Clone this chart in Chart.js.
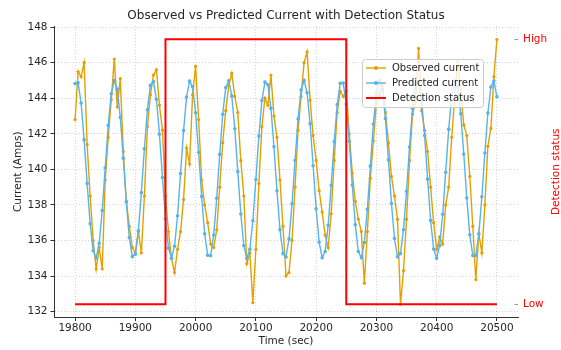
<!DOCTYPE html>
<html>
<head>
<meta charset="utf-8">
<script src="https://cdn.jsdelivr.net/npm/chart.js@4.4.1/dist/chart.umd.min.js"></script>
<style>
  html, body { margin: 0; padding: 0; background: #fff; }
  canvas { display: block; }
</style>
</head>
<body>
<canvas id="grafico" width="561" height="350"></canvas>
<script>
// time stamps (sec), one every 5 s
const times = [
  19800, 19805, 19810, 19815, 19820, 19825, 19830, 19835, 19840, 19845,
  19850, 19855, 19860, 19865, 19870, 19875, 19880, 19885, 19890, 19895,
  19900, 19905, 19910, 19915, 19920, 19925, 19930, 19935, 19940, 19945,
  19950, 19955, 19960, 19965, 19970, 19975, 19980, 19985, 19990, 19995,
  20000, 20005, 20010, 20015, 20020, 20025, 20030, 20035, 20040, 20045,
  20050, 20055, 20060, 20065, 20070, 20075, 20080, 20085, 20090, 20095,
  20100, 20105, 20110, 20115, 20120, 20125, 20130, 20135, 20140, 20145,
  20150, 20155, 20160, 20165, 20170, 20175, 20180, 20185, 20190, 20195,
  20200, 20205, 20210, 20215, 20220, 20225, 20230, 20235, 20240, 20245,
  20250, 20255, 20260, 20265, 20270, 20275, 20280, 20285, 20290, 20295,
  20300, 20305, 20310, 20315, 20320, 20325, 20330, 20335, 20340, 20345,
  20350, 20355, 20360, 20365, 20370, 20375, 20380, 20385, 20390, 20395,
  20400, 20405, 20410, 20415, 20420, 20425, 20430, 20435, 20440, 20445,
  20450, 20455, 20460, 20465, 20470, 20475, 20480, 20485, 20490, 20495,
  20500
];

const observed = [
  142.8, 145.5, 145.2, 146.0, 141.4, 138.5, 136.0, 134.4, 135.6, 134.4,
  139.4, 141.8, 143.9, 146.2, 143.5, 145.1, 141.0, 138.2, 136.8, 135.6,
  135.3, 136.5, 135.3, 138.5, 142.4, 144.2, 145.3, 145.6, 143.6, 142.2,
  138.5, 136.5, 135.0, 134.2, 135.5, 136.5, 138.3, 141.2, 140.3, 144.2,
  145.8, 142.8, 139.4, 138.0, 137.0, 135.8, 135.6, 136.6, 139.0, 141.5,
  143.3, 144.7, 145.4, 144.1, 143.2, 140.5, 138.5, 134.7, 135.3, 132.5,
  135.5, 139.2, 142.4, 144.0, 143.6, 145.3, 143.0, 141.8, 139.4, 136.8,
  134.0, 134.2, 136.0, 139.0, 142.2, 144.1, 146.0, 146.6, 143.9, 141.9,
  140.5, 138.8, 137.6, 136.3, 135.6, 137.5, 140.5, 143.2, 144.4, 144.1,
  144.4, 142.0, 139.8, 138.2, 137.2, 136.5, 133.6, 136.5, 139.5, 141.6,
  143.7, 144.2, 144.8, 143.2, 141.5, 139.6, 138.5, 137.2, 132.4, 134.3,
  137.2, 140.5, 143.1, 143.8, 146.8, 143.3, 142.2, 141.0, 139.0, 137.0,
  135.5, 136.2, 135.8, 138.0, 139.0, 141.8, 144.0, 146.1, 144.3, 142.5,
  141.9, 139.6, 136.8, 133.8, 136.4, 135.3, 138.0, 141.3, 142.3, 145.2,
  147.3
];

const predicted = [
  144.82, 144.87, 143.73, 141.67, 139.21, 136.94, 135.42, 135.02, 135.84, 137.68,
  140.09, 142.47, 144.25, 144.99, 144.51, 142.92, 140.62, 138.16, 136.16, 135.09,
  135.23, 136.54, 138.69, 141.16, 143.35, 144.72, 144.93, 143.94, 141.98, 139.54,
  137.20, 135.57, 135.00, 135.67, 137.39, 139.76, 142.18, 144.07, 144.96, 144.64,
  143.18, 140.95, 138.48, 136.38, 135.17, 135.14, 136.31, 138.37, 140.84, 143.10,
  144.60, 144.98, 144.13, 142.28, 139.87, 137.49, 135.72, 135.00, 135.51, 137.11,
  139.43, 141.88, 143.87, 144.91, 144.76, 143.43, 141.27, 138.80, 136.61, 135.26,
  135.07, 136.09, 138.06, 140.51, 142.83, 144.46, 145.00, 144.31, 142.57, 140.20,
  137.78, 135.91, 135.03, 135.38, 136.86, 139.10, 141.56, 143.65, 144.84, 144.85,
  143.67, 141.58, 139.12, 136.88, 135.38, 135.03, 135.89, 137.76, 140.18, 142.55,
  144.30, 145.00, 144.47, 142.85, 140.53, 138.08, 136.11, 135.08, 135.26, 136.60,
  138.77, 141.25, 143.42, 144.75, 144.92, 143.88, 141.90, 139.45, 137.13, 135.52,
  135.00, 135.71, 137.47, 139.84, 142.26, 144.12, 144.97, 144.61, 143.12, 140.86,
  138.39, 136.32, 135.15, 135.16, 136.36, 138.46, 140.92, 143.17, 144.63, 144.97,
  144.08
];

// detection status changes (0 = Low, 1 = High)
const statusTimes = [19800, 19950, 19950, 20250, 20250, 20500];
const statusValues = [0, 0, 1, 1, 0, 0];

const xTicks = [19800, 19900, 20000, 20100, 20200, 20300, 20400, 20500];
const yTicks = [132, 134, 136, 138, 140, 142, 144, 146, 148];
const statusTicks = [0, 1];
const statusLabels = ['Low', 'High'];

const fonte = "'DejaVu Sans', sans-serif";
const corTexto = '#262626';
const corGrade = 'rgba(0,0,0,0.22)';

Chart.defaults.font.family = fonte;

function pontos(xs, ys) {
  return xs.map((x, i) => ({ x: x, y: ys[i] }))
}

function fixaTicks(lista) {
  return function (scale) {
    scale.ticks = lista.map(v => ({ value: v }))
  }
}

const extrasPlugin = {
  id: 'extras',
  afterDraw(chart) {
    const ctx = chart.ctx
    const area = chart.chartArea
    const escalaStatus = chart.scales.yStatus

    // small tick marks of the status axis
    ctx.save()
    ctx.strokeStyle = '#999'
    ctx.lineWidth = 1
    statusTicks.forEach(v => {
      const y = Math.round(escalaStatus.getPixelForValue(v)) + 0.5
      ctx.beginPath()
      ctx.moveTo(area.right - 3.5, y)
      ctx.lineTo(area.right, y)
      ctx.stroke()
    })

    // right axis title, reads bottom to top
    ctx.translate(556, (area.top + area.bottom) / 2)
    ctx.rotate(-Math.PI / 2)
    ctx.fillStyle = 'red'
    ctx.font = '10.5px ' + fonte
    ctx.textAlign = 'center'
    ctx.textBaseline = 'middle'
    ctx.fillText('Detection status', 0, 0)
    ctx.restore()

    // legend box
    const caixa = { x: 362, y: 59, w: 121, h: 48 }
    ctx.save()
    ctx.beginPath()
    ctx.roundRect(caixa.x + 0.5, caixa.y + 0.5, caixa.w, caixa.h, 3)
    ctx.fillStyle = 'rgba(255,255,255,0.8)'
    ctx.fill()
    ctx.strokeStyle = '#cccccc'
    ctx.lineWidth = 1
    ctx.stroke()

    chart.data.datasets.forEach((ds, i) => {
      const y = caixa.y + 9 + i * 15
      ctx.strokeStyle = ds.borderColor
      ctx.lineWidth = ds.borderWidth
      ctx.beginPath()
      ctx.moveTo(caixa.x + 4, y)
      ctx.lineTo(caixa.x + 24, y)
      ctx.stroke()
      if (ds.pointRadius > 0) {
        ctx.fillStyle = ds.borderColor
        ctx.beginPath()
        ctx.arc(caixa.x + 14, y, 2, 0, Math.PI * 2)
        ctx.fill()
      }
      ctx.fillStyle = corTexto
      ctx.font = '10px ' + fonte
      ctx.textAlign = 'left'
      ctx.textBaseline = 'middle'
      ctx.fillText(ds.label, caixa.x + 30, y)
    })
    ctx.restore()
  }
};

const grafico = new Chart(document.getElementById('grafico'), {
  type: 'line',
  data: {
    datasets: [{
      label: 'Observed current',
      data: pontos(times, observed),
      borderColor: '#E69F00',
      backgroundColor: '#E69F00',
      borderWidth: 1.4,
      pointRadius: 1.6,
      pointBorderWidth: 0,
      pointBackgroundColor: '#E69F00',
      order: 3
    }, {
      label: 'Predicted current',
      data: pontos(times, predicted),
      borderColor: '#56B4E9',
      backgroundColor: '#56B4E9',
      borderWidth: 1.4,
      pointRadius: 1.8,
      pointBorderWidth: 0,
      pointBackgroundColor: '#56B4E9',
      order: 2
    }, {
      label: 'Detection status',
      data: pontos(statusTimes, statusValues),
      yAxisID: 'yStatus',
      borderColor: 'red',
      backgroundColor: 'red',
      borderWidth: 2,
      pointRadius: 0,
      order: 1
    }]
  },
  options: {
    responsive: false,
    animation: false,
    devicePixelRatio: 1,
    events: [],
    layout: { padding: 0 },
    plugins: {
      legend: { display: false },
      tooltip: { enabled: false },
      title: {
        display: true,
        fullSize: false,
        text: 'Observed vs Predicted Current with Detection Status',
        color: corTexto,
        font: { family: fonte, size: 12, weight: 'normal' },
        padding: { top: 9, bottom: 2.6 }
      }
    },
    scales: {
      x: {
        type: 'linear',
        min: 19765,
        max: 20535,
        afterBuildTicks: fixaTicks(xTicks),
        afterFit: s => { s.height = 32.5 },
        ticks: {
          color: corTexto,
          font: { size: 10.5 },
          padding: 1,
          maxRotation: 0,
          autoSkip: false,
          callback: v => String(v)
        },
        grid: { color: corGrade, lineWidth: 0.8, tickLength: 3.5, tickColor: '#333', tickWidth: 1 },
        border: { color: '#333', width: 1, dash: [1, 2] },
        title: {
          display: true,
          text: 'Time (sec)',
          color: corTexto,
          font: { size: 10.5 },
          padding: { top: 0, bottom: 2 }
        }
      },
      y: {
        position: 'left',
        min: 131.67,
        max: 148.06,
        afterBuildTicks: fixaTicks(yTicks),
        afterFit: s => { s.width = 54 },
        ticks: {
          color: corTexto,
          font: { size: 10.5 },
          padding: 3,
          autoSkip: false,
          callback: v => String(v)
        },
        grid: { color: corGrade, lineWidth: 0.8, tickLength: 3.5, tickColor: '#333', tickWidth: 1 },
        border: { color: '#333', width: 1, dash: [1, 2] },
        title: {
          display: true,
          text: 'Current (Amps)',
          color: corTexto,
          font: { size: 10.5 },
          padding: { top: 12, bottom: 0 }
        }
      },
      yStatus: {
        position: 'right',
        min: -0.05,
        max: 1.05,
        afterBuildTicks: fixaTicks(statusTicks),
        afterFit: s => { s.width = 43 },
        ticks: {
          color: 'red',
          font: { size: 10.5 },
          padding: 5,
          autoSkip: false,
          callback: v => statusLabels[statusTicks.indexOf(v)]
        },
        grid: { drawOnChartArea: false, drawTicks: false },
        border: { display: false }
      }
    }
  },
  plugins: [extrasPlugin]
});
</script>
</body>
</html>
